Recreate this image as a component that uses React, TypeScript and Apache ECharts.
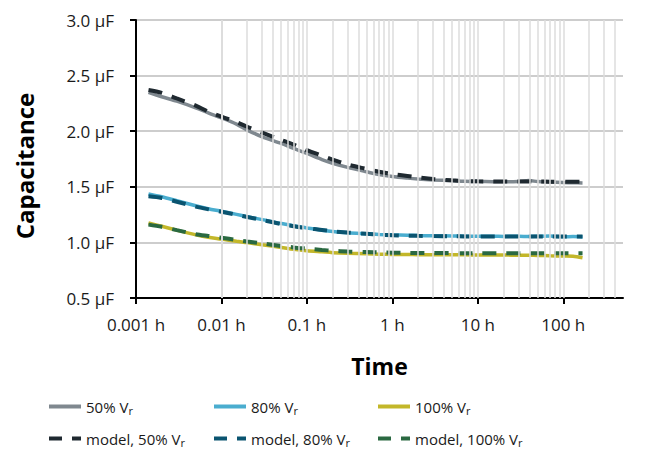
import React, { useEffect, useRef } from 'react';
import * as echarts from 'echarts';

// time in hours
const timeH = [0.0014, 0.002, 0.003, 0.005, 0.007, 0.01, 0.015, 0.02, 0.03, 0.05, 0.07, 0.1, 0.15, 0.2, 0.3, 0.5, 0.7, 1, 1.5, 2, 3, 5, 7, 10, 15, 20, 30, 40, 50, 70, 100, 130, 168];

const meas50 = [2.35, 2.31, 2.27, 2.21, 2.165, 2.12, 2.063, 2.01, 1.95, 1.89, 1.845, 1.8, 1.745, 1.712, 1.675, 1.635, 1.61, 1.592, 1.578, 1.57, 1.562, 1.555, 1.55, 1.548, 1.546, 1.545, 1.548, 1.556, 1.547, 1.542, 1.538, 1.536, 1.535];
const model50 = [2.37, 2.345, 2.295, 2.23, 2.176, 2.13, 2.082, 2.04, 1.988, 1.92, 1.88, 1.83, 1.78, 1.745, 1.7, 1.66, 1.635, 1.615, 1.598, 1.585, 1.57, 1.558, 1.552, 1.549, 1.548, 1.547, 1.547, 1.547, 1.547, 1.546, 1.545, 1.545, 1.544];

const meas80 = [1.436, 1.41, 1.375, 1.33, 1.303, 1.28, 1.252, 1.232, 1.205, 1.17, 1.15, 1.13, 1.11, 1.098, 1.087, 1.078, 1.072, 1.068, 1.065, 1.062, 1.06, 1.058, 1.056, 1.055, 1.056, 1.054, 1.055, 1.053, 1.055, 1.058, 1.05, 1.052, 1.048];
const model80 = [1.415, 1.4, 1.366, 1.322, 1.298, 1.275, 1.248, 1.229, 1.201, 1.165, 1.145, 1.128, 1.112, 1.1, 1.088, 1.077, 1.07, 1.065, 1.061, 1.059, 1.057, 1.055, 1.054, 1.053, 1.053, 1.053, 1.052, 1.052, 1.052, 1.052, 1.052, 1.052, 1.052];

const meas100 = [1.174, 1.145, 1.11, 1.068, 1.047, 1.03, 1.01, 0.998, 0.978, 0.955, 0.938, 0.925, 0.915, 0.908, 0.902, 0.897, 0.894, 0.892, 0.891, 0.89, 0.889, 0.888, 0.888, 0.887, 0.887, 0.886, 0.885, 0.884, 0.883, 0.88, 0.877, 0.875, 0.862];
const model100 = [1.16, 1.14, 1.11, 1.074, 1.058, 1.042, 1.022, 1.008, 0.99, 0.968, 0.955, 0.944, 0.932, 0.925, 0.918, 0.913, 0.91, 0.908, 0.906, 0.905, 0.904, 0.904, 0.903, 0.903, 0.903, 0.903, 0.903, 0.903, 0.903, 0.903, 0.903, 0.903, 0.903];

const xTicks = [0.001, 0.01, 0.1, 1, 10, 100];
const xTickLabels = ['0.001 h', '0.01 h', '0.1 h', '1 h', '10 h', '100 h'];
const yTicks = [0.5, 1.0, 1.5, 2.0, 2.5, 3.0];
const yTickLabels = ['0.5 µF', '1.0 µF', '1.5 µF', '2.0 µF', '2.5 µF', '3.0 µF'];

const seriesNames = ['50% V_r', '80% V_r', '100% V_r', 'model, 50% V_r', 'model, 80% V_r', 'model, 100% V_r'];
const seriesValues = [meas50, meas80, meas100, model50, model80, model100];
const seriesColors = ['#7f888f', '#4aadcf', '#c3b72a', '#1f2930', '#0a5470', '#2a6941'];

// vertical log gridlines (1..9 x each decade)
const gridTimes: number[] = [];
[0.001, 0.01, 0.1, 1, 10, 100].forEach((d) => {
  for (let k = 1; k <= 9; k++) {
    const v = +(k * d).toPrecision(3);
    if (v > 0.001 && v < 500) gridTimes.push(v);
  }
});

const FONT = 'Open Sans';
const SOLID_ICON = 'path://M0 0H32V4H0Z';
const DASH_ICON = 'path://M0 0H13V4H0ZM23 0H32V4H23Z';

function labelFor(v: number, ticks: number[], labels: string[]) {
  let best = 0;
  let bd = Infinity;
  ticks.forEach((t, i) => {
    const d = Math.abs(Math.log10(t) - Math.log10(v));
    if (d < bd) { bd = d; best = i; }
  });
  return bd < 1e-6 ? labels[best] : '';
}

export default function App() {
  const ref = useRef<HTMLDivElement>(null);
  useEffect(() => {
    if (!ref.current) return;
    const chart = echarts.init(ref.current, null, { renderer: 'svg' });
    const lefts = [49, 214, 378];
    const tops = [399, 431];
    const legends = seriesNames.map((name, i) => ({
      data: [{ name, icon: i < 3 ? SOLID_ICON : DASH_ICON }],
      left: lefts[i % 3],
      top: tops[Math.floor(i / 3)],
      padding: 0,
      itemWidth: 32,
      itemHeight: 4,
      itemStyle: { color: seriesColors[i], borderWidth: 0 },
      formatter: (n: string) => {
        const base = n.replace('_r', '');
        return `{n|${base}}{s|r}`;
      },
      textStyle: {
        fontFamily: FONT,
        fontSize: 15,
        color: '#1a1a1a',
        rich: {
          n: { fontFamily: FONT, fontSize: 15, lineHeight: 18, verticalAlign: 'middle', color: '#1a1a1a' },
          s: { fontFamily: FONT, fontSize: 11, lineHeight: 9, verticalAlign: 'bottom', color: '#1a1a1a' },
        },
      },
    }));

    const dataSeries = seriesNames.map((name, i) => ({
      name,
      type: 'line',
      data: timeH.map((t, j) => [t, seriesValues[i][j]]),
      symbol: 'none',
      smooth: 0.3,
      z: i < 3 ? 3 : 4,
      lineStyle: {
        color: seriesColors[i],
        width: i < 3 ? 3.5 : 4,
        type: i < 3 ? 'solid' : [14, 10],
      },
      itemStyle: { color: seriesColors[i] },
    }));

    chart.setOption({
      animation: false,
      backgroundColor: '#ffffff',
      grid: { left: 136, right: 22, top: 20, bottom: 151, containLabel: false },
      legend: legends,
      xAxis: {
        type: 'log',
        logBase: 10,
        min: 0.001,
        max: 500,
        name: 'Time',
        nameLocation: 'middle',
        nameGap: 56,
        nameTextStyle: { fontFamily: FONT, fontSize: 23, fontWeight: 'bold', color: '#000' },
        axisLine: { show: true, lineStyle: { color: '#000', width: 2 } },
        axisTick: { show: true, customValues: xTicks, length: 6, lineStyle: { color: '#000', width: 2 } },
        axisLabel: {
          customValues: xTicks,
          margin: 18,
          fontFamily: FONT,
          fontSize: 17,
          color: '#1a1a1a',
          formatter: (v: number) => labelFor(v, xTicks, xTickLabels),
        },
        splitLine: { show: false },
        minorTick: { show: false },
      },
      yAxis: {
        type: 'value',
        min: 0.5,
        max: 3.0,
        interval: 0.5,
        name: 'Capacitance',
        nameLocation: 'middle',
        nameGap: 100,
        nameTextStyle: { fontFamily: FONT, fontSize: 24, fontWeight: 'bold', color: '#000', padding: [0, 14, 0, 0] },
        axisLine: { show: true, lineStyle: { color: '#000', width: 2 } },
        axisTick: { show: true, inside: false, length: 6, lineStyle: { color: '#000', width: 2 } },
        axisLabel: {
          margin: 22,
          fontFamily: FONT,
          fontSize: 17,
          color: '#1a1a1a',
          formatter: (v: number) => {
            const i = yTicks.findIndex((t) => Math.abs(t - v) < 1e-6);
            return i >= 0 ? yTickLabels[i] : '';
          },
        },
        splitLine: { show: true, lineStyle: { color: '#bdbdbd', width: 1.5 } },
      },
      series: [
        {
          name: '__grid',
          type: 'line',
          data: [],
          z: 1,
          silent: true,
          markLine: {
            silent: true,
            symbol: 'none',
            label: { show: false },
            lineStyle: { color: '#dcdcdc', width: 1.5, type: 'solid' },
            data: gridTimes.map((v) => ({ xAxis: v })),
          },
        },
        ...dataSeries,
      ],
    });
    return () => chart.dispose();
  }, []);
  return (
    <div
      ref={ref}
      style={{ position: 'absolute', left: 0, top: 0, width: 645, height: 449 }}
    />
  );
}
